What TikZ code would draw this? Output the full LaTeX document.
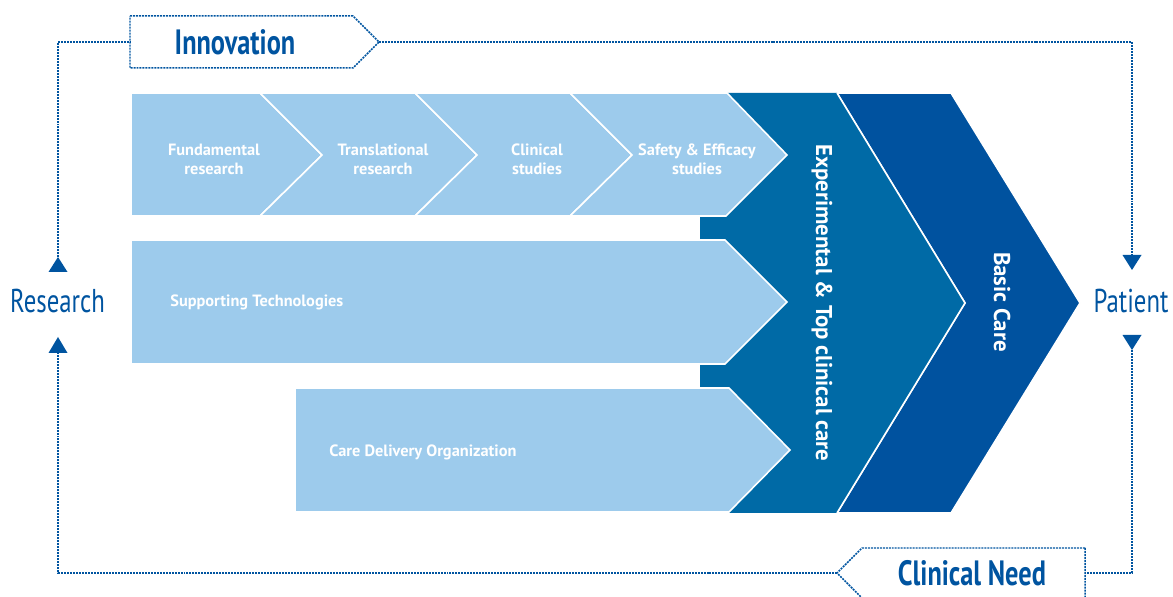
\documentclass[tikz,border=0pt]{standalone}
\usepackage{fontspec}
\setmainfont{PT Sans}
\newfontfamily\condfont[FakeStretch=0.75]{PT Sans}
\usetikzlibrary{arrows.meta}
\definecolor{lightb}{RGB}{157,203,236}
\definecolor{midb}{RGB}{0,106,166}
\definecolor{darkb}{RGB}{0,82,159}
\definecolor{txtb}{RGB}{0,84,160}
\begin{document}
\begin{tikzpicture}[x=0.02cm,y=-0.02cm,
  lightbox/.style={fill=lightb,draw=white,line width=0.9pt,line join=miter},
  whitetxt/.style={text=white,font=\bfseries\fontsize{9.3}{10.8}\selectfont,align=center,inner sep=0pt},
  bigtxt/.style={text=white,font=\bfseries\fontsize{13}{14}\selectfont,inner sep=0pt},
  sidelabel/.style={text=txtb,font=\condfont\fontsize{18.8}{20}\selectfont,inner sep=0pt},
  titlelabel/.style={text=txtb,font=\condfont\bfseries\fontsize{20}{22}\selectfont,inner sep=0pt},
  dashline/.style={draw=txtb,line width=0.85pt,dash pattern=on 1.134pt off 0.567pt},
  tri/.style={fill=txtb}]
\useasboundingbox (0,0) rectangle (1173,597);
\clip (0,0) rectangle (1173,597);

% Basic care
\path[fill=darkb,draw=white,line width=0.9pt] (837,93) -- (951,93) -- (1080,303) -- (951,513) -- (837,513) -- (965,303) -- cycle;
% Experimental
\path[fill=midb] (700,93) -- (837,93) -- (965,303) -- (837,513) -- (700,513) -- cycle;
\draw[white,line width=0.9pt] (837,93) -- (965,303) -- (837,513);

% top row chevrons
\path[lightbox] (131,93) -- (260,93) -- (322,155) -- (260,216) -- (131,216) -- cycle;
\path[lightbox] (260,93) -- (415,93) -- (477,155) -- (415,216) -- (260,216) -- (322,155) -- cycle;
\path[lightbox] (415,93) -- (570,93) -- (632,155) -- (570,216) -- (415,216) -- (477,155) -- cycle;
\path[lightbox] (570,93) -- (727,93) -- (787,155) -- (726,216) -- (570,216) -- (632,155) -- cycle;
% supporting technologies
\path[lightbox] (131,240) -- (725,240) -- (787,302) -- (725,364) -- (131,364) -- cycle;
% care delivery
\path[lightbox] (295,388) -- (729,388) -- (790,450) -- (729,512) -- (295,512) -- cycle;

% texts in boxes
\node[whitetxt] (fund) at (214,159) {Fundamental\\research};
\node[whitetxt] (trans) at (383,159) {Translational\\research};
\node[whitetxt] (clin) at (537,159) {Clinical\\studies};
\node[whitetxt] (safe) at (697,159) {Safety \& Efficacy\\studies};
\node[whitetxt,anchor=west] (supp) at (170,302) {Supporting Technologies};
\node[whitetxt,anchor=west] (care) at (329,452) {Care Delivery Organization};
\node[bigtxt,rotate=-90] (exper) at (822,303) {Experimental \& Top clinical care};
\node[bigtxt,rotate=-90] (basic) at (1002,302) {Basic Care};

% side labels
\node[sidelabel] (research) at (57.5,301) {Research};
\node[sidelabel] (patient) at (1131,301) {Patient};

% Innovation box
\path[dashline] (130,16) -- (353,16) -- (379,42) -- (353,68) -- (130,68) -- cycle;
\node[titlelabel] (innov) at (235,42) {Innovation};
\coordinate (innovW) at (130,42);
\coordinate (innovE) at (379,42);

% Clinical Need box
\path[dashline] (1085,548) -- (862,548) -- (837,573) -- (862,598) -- (1085,598) -- cycle;
\node[titlelabel] (need) at (972,573) {Clinical Need};
\coordinate (needE) at (1085,573);
\coordinate (needW) at (837,573);

% connector end coordinates (triangle apex / base)
\coordinate (rTop) at (58,257);
\coordinate (rBotBase) at (58,353);
\coordinate (pTopBase) at (1132,255);
\coordinate (pBotApex) at (1132,350);

% connectors
\draw[dashline] (rTop) |- (innovW);
\draw[dashline] (innovE) -| (pTopBase);
\draw[dashline] (pBotApex) |- (needE);
\draw[dashline] (needW) -| (rBotBase);

% triangles
\fill[tri] (rTop) -- ++(-9.5,15) -- ++(19,0) -- cycle;
\fill[tri] (rBotBase) ++(-9.5,0) -- ++(19,0) -- ++(-9.5,-16) -- cycle;
\fill[tri] (pTopBase) ++(-9.5,0) -- ++(19,0) -- ++(-9.5,15) -- cycle;
\fill[tri] (pBotApex) -- ++(-9.5,-15) -- ++(19,0) -- cycle;
\end{tikzpicture}
\end{document}
